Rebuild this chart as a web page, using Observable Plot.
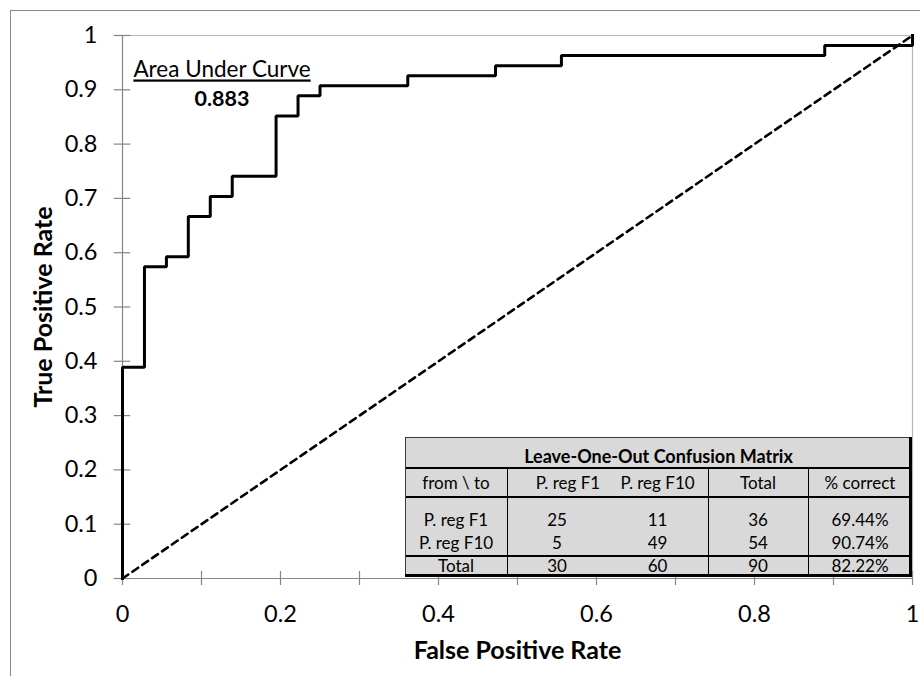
<!DOCTYPE html>
<html>
<head>
<meta charset="utf-8">
<script src="https://cdn.jsdelivr.net/npm/d3@7"></script>
<script src="https://cdn.jsdelivr.net/npm/@observablehq/plot@0.6"></script>
<style>
  html, body { margin: 0; padding: 0; background: #fff; width: 920px; height: 676px; overflow: hidden; }
  #wrap { position: relative; width: 920px; height: 676px; font-family: Lato, "Open Sans", sans-serif; }
  #frame { position: absolute; left: 10px; top: 10px; width: 960px; height: 720px; border: 1px solid #8a8a8a; box-sizing: border-box; }
  #chart { position: absolute; left: 0; top: 0; }
  #cm { position: absolute; left: 0; top: 0; width: 0; height: 0; }
  .cmbox { position: absolute; box-sizing: border-box; }
  .cmtext { position: absolute; height: 24px; line-height: 24px; text-align: center; font-size: 17px; color: #000; white-space: nowrap; }
</style>
</head>
<body>
<div id="wrap">
  <div id="frame"></div>
  <div id="chart"></div>
  <div id="cm"></div>
</div>
<script>
// ---------- data ----------
const rocFPR = [0, 0, 0.0278, 0.0278, 0.0556, 0.0556, 0.0833, 0.0833, 0.1111, 0.1111, 0.1389, 0.1389, 0.1944, 0.1944, 0.2222, 0.2222, 0.25, 0.25, 0.3611, 0.3611, 0.4722, 0.4722, 0.5556, 0.5556, 0.8889, 0.8889, 1, 1];
const rocTPR = [0, 0.3889, 0.3889, 0.5741, 0.5741, 0.5926, 0.5926, 0.6667, 0.6667, 0.7037, 0.7037, 0.7407, 0.7407, 0.8519, 0.8519, 0.8889, 0.8889, 0.9074, 0.9074, 0.9259, 0.9259, 0.9444, 0.9444, 0.9630, 0.9630, 0.9815, 0.9815, 1];
const chanceFPR = [0, 1];
const chanceTPR = [0, 1];

const xTickLabels = [0, 0.2, 0.4, 0.6, 0.8, 1];
const xTickMarks = [0, 0.1, 0.2, 0.3, 0.4, 0.5, 0.6, 0.7, 0.8, 0.9, 1];
const yTicks = [0, 0.1, 0.2, 0.3, 0.4, 0.5, 0.6, 0.7, 0.8, 0.9, 1];

const xTitle = "False Positive Rate";
const yTitle = "True Positive Rate";
const aucLabel = "Area Under Curve";
const aucValue = "0.883";
const aucPosX = [0.126];
const aucPosY = [0.936, 0.882];

const cmTitle = "Leave-One-Out Confusion Matrix";
const cmColumns = ["from \\ to", "P. reg F1", "P. reg F10", "Total", "% correct"];
const cmRowNames = ["P. reg F1", "P. reg F10", "Total"];
const cmToF1 = [25, 5, 30];
const cmToF10 = [11, 49, 60];
const cmTotals = [36, 54, 90];
const cmPctCorrect = ["69.44%", "90.74%", "82.22%"];

// ---------- chart ----------
const roc = rocFPR.map((x, i) => ({x, y: rocTPR[i]}));
const chance = chanceFPR.map((x, i) => ({x, y: chanceTPR[i]}));
const fmt = d => String(d);
const axisGray = "#868686";

const chart = Plot.plot({
  width: 920,
  height: 676,
  marginLeft: 122,
  marginRight: 8,
  marginTop: 35,
  marginBottom: 98,
  x: {domain: [0, 1]},
  y: {domain: [0, 1]},
  style: {fontFamily: "Lato, 'Open Sans', sans-serif", background: "transparent", overflow: "visible", color: "#000"},
  marks: [
    Plot.ruleY([1], {stroke: "#b8b8b8", strokeWidth: 1.2}),
    Plot.ruleX([1], {stroke: "#b8b8b8", strokeWidth: 1.2}),
    Plot.ruleY(yTicks, {x1: -0.0105, x2: 0.0105, stroke: axisGray, strokeWidth: 1.2}),
    Plot.ruleX(xTickMarks, {y1: -0.013, y2: 0.013, stroke: axisGray, strokeWidth: 1.2}),
    Plot.ruleX([0], {stroke: axisGray, strokeWidth: 1.2}),
    Plot.ruleY([0], {stroke: axisGray, strokeWidth: 1.2}),
    Plot.axisX(xTickLabels, {tickSize: 0, tickPadding: 27, fontSize: 23.5, tickFormat: fmt, label: null}),
    Plot.axisY(yTicks, {tickSize: 0, tickPadding: 25, fontSize: 23.5, tickFormat: fmt, label: null}),
    Plot.line(chance, {x: "x", y: "y", stroke: "#000", strokeWidth: 2.6, strokeDasharray: "7,5"}),
    Plot.line(roc, {x: "x", y: "y", stroke: "#000", strokeWidth: 3, strokeLinejoin: "miter", strokeLinecap: "square"}),
    Plot.text([aucLabel], {x: aucPosX[0], y: aucPosY[0], fontSize: 22.5, fill: "#000"}),
    Plot.text([aucValue], {x: aucPosX[0], y: aucPosY[1], fontSize: 21.5, fontWeight: "bold", fill: "#000"}),
    Plot.text([yTitle], {frameAnchor: "left", textAnchor: "middle", lineAnchor: "middle", dx: -79, rotate: -90, fontSize: 25, fontWeight: "bold", fill: "#000"}),
    Plot.text([xTitle], {frameAnchor: "bottom", textAnchor: "middle", lineAnchor: "middle", dy: 72, fontSize: 25, fontWeight: "bold", fill: "#000"})
  ]
});
d3.select(chart).selectAll("text")
  .filter(function () { return this.textContent === aucLabel; })
  .attr("text-decoration", "underline");
document.getElementById("chart").appendChild(chart);

// ---------- confusion-matrix table (HTML overlay) ----------
const colEdges = [405, 507, 607, 708, 808, 912];
const rowEdges = [437, 468, 497, 532, 556, 577];
const textCenters = [456, 483, 520, 543, 566];
const cm = document.getElementById("cm");

function box(left, top, width, height, style) {
  const d = document.createElement("div");
  d.className = "cmbox";
  Object.assign(d.style, {left: left + "px", top: top + "px", width: width + "px", height: height + "px"}, style);
  cm.appendChild(d);
}
function label(text, x0, x1, yc, style) {
  const d = document.createElement("div");
  d.className = "cmtext";
  d.textContent = text;
  Object.assign(d.style, {left: x0 + "px", width: (x1 - x0) + "px", top: (yc - 12) + "px"}, style || {});
  cm.appendChild(d);
}
const L = colEdges[0], R = colEdges[5], T = rowEdges[0], B = rowEdges[5];
// background
box(L, T, R - L, B - T, {background: "#d9d9d9"});
// inner lines
box(L, rowEdges[1] - 1, R - L, 2, {background: "#000"});
box(L, rowEdges[2] - 1, R - L, 1.5, {background: "#000"});
box(L, rowEdges[4] - 1, R - L, 1.5, {background: "#000"});
[1, 3, 4].forEach(c => box(colEdges[c], rowEdges[1], 1, B - rowEdges[1], {background: "#000"}));
// outer border
box(L, T, R - L, 1, {background: "#3a3a3a"});
box(L, T, 1, B - T, {background: "#3a3a3a"});
box(R - 3, T, 3, B - T, {background: "#000"});
box(L, B - 3, R - L, 3, {background: "#000"});

label(cmTitle, L, R, textCenters[0], {fontWeight: "bold", fontSize: "18px"});
cmColumns.forEach((t, c) => label(t, colEdges[c], colEdges[c + 1], textCenters[1], c === 1 ? {paddingLeft: "22px", boxSizing: "border-box"} : {}));
cmRowNames.forEach((name, r) => {
  const yc = textCenters[2 + r];
  const vals = [name, cmToF1[r], cmToF10[r], cmTotals[r], cmPctCorrect[r]];
  vals.forEach((v, c) => label(String(v), colEdges[c], colEdges[c + 1], yc));
});
</script>
</body>
</html>
